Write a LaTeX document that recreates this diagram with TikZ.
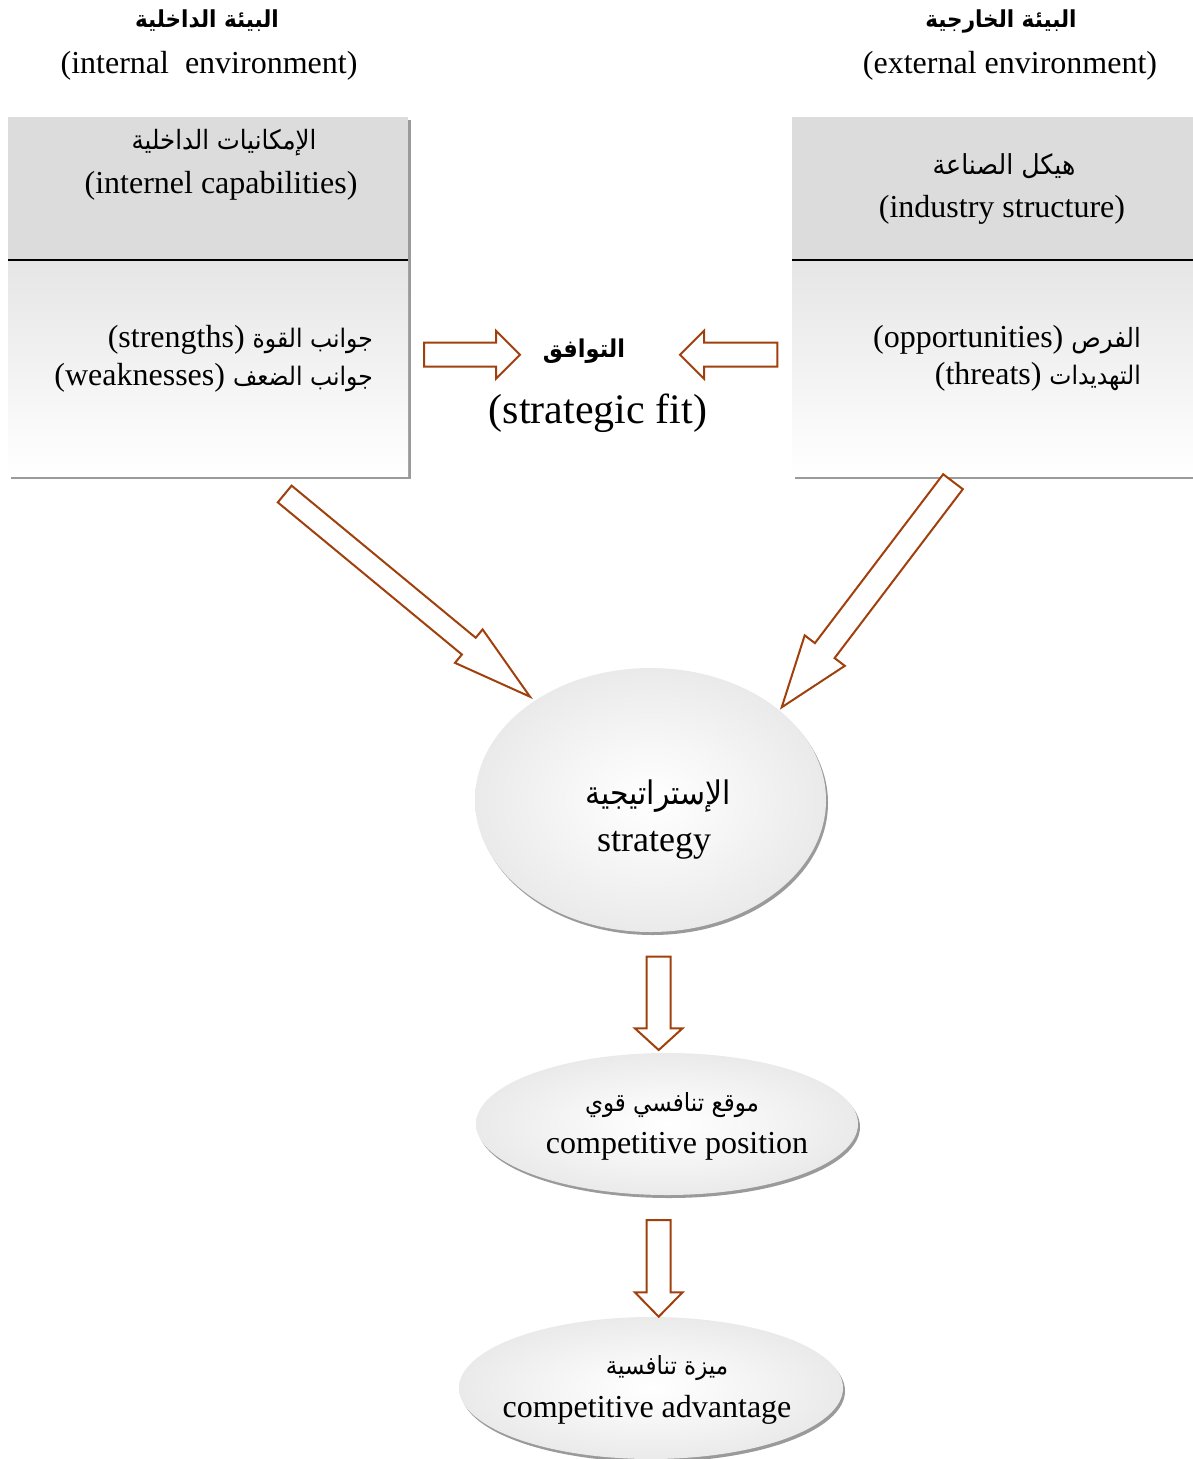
\documentclass[tikz,border=0pt]{standalone}
\usepackage{fontspec}
\setmainfont{Liberation Serif}
\newfontfamily\ar[Script=Arabic, FakeStretch=0.92]{DejaVu Sans}
\TeXXeTstate=1
\usetikzlibrary{calc,shapes.geometric,shadows}

\definecolor{arrowbrown}{HTML}{A0400C}
\definecolor{boxgray}{HTML}{DCDCDC}
\definecolor{shadowgray}{HTML}{9A9A9A}
\pgfdeclareradialshading{ovalshade}{\pgfpoint{0bp}{0bp}}{%
  color(0bp)=(white); color(10bp)=(white!97!black); color(50bp)=(black!17)}

% hollow block arrow: tail, tip, half body width, half head width, head length
\newcommand\hollowarrow[5]{%
  \draw[blockarrow]
    ($(#1)!#3!90:(#2)$) --
    ($(#2)!#5!(#1)!#3!-90:(#1)$) --
    ($(#2)!#5!(#1)!#4!-90:(#1)$) --
    (#2) --
    ($(#2)!#5!(#1)!#4!90:(#1)$) --
    ($(#2)!#5!(#1)!#3!90:(#1)$) --
    ($(#1)!#3!-90:(#2)$) -- cycle;}

% Arabic font at a given size
\newcommand\arsize[1]{\ar\fontsize{#1}{#1}\selectfont}

\tikzset{
  x=1pt, y=-1pt,
  txt/.style={inner sep=0pt, font=\fontsize{32}{41}\selectfont, align=center},
  artxt/.style={inner sep=0pt},
  topbox/.style={rectangle, fill=boxgray, inner sep=0pt, outer sep=0pt, anchor=north west,
    drop shadow={shadow xshift=3pt, shadow yshift=-3pt, fill=shadowgray, opacity=1}},
  botbox/.style={rectangle, inner sep=0pt, outer sep=0pt, anchor=north west,
    top color=black!10, bottom color=white,
    drop shadow={shadow xshift=3pt, shadow yshift=-3pt, fill=shadowgray, opacity=1}},
  divider/.style={line width=2pt, black},
  blockarrow/.style={draw=arrowbrown, line width=2pt, fill=white, line join=miter},
  oval/.style={ellipse, inner sep=0pt, shading=ovalshade,
    drop shadow={shadow xshift=2pt, shadow yshift=-3pt, fill=shadowgray, opacity=1}},
}

\begin{document}
\begin{tikzpicture}
\useasboundingbox (0,0) rectangle (1193,1459);
\clip (0,0) rectangle (1193,1459);

% headings
\node[artxt, font=\bfseries] (intHeadAr) at (207,21) {\arsize{23.4}\bfseries\beginR البيئة الداخلية\endR};
\node[txt] (intHeadEn) at (209,66) {(internal\ \ environment)};
\node[artxt, font=\bfseries] (extHeadAr) at (1001,21) {\arsize{23.4}\bfseries\beginR البيئة الخارجية\endR};
\node[txt] (extHeadEn) at (1010,66) {(external environment)};

% internal environment box
\node[topbox, minimum width=400pt, minimum height=143pt] (intTop) at (8,117) {};
\node[botbox, minimum width=400pt, minimum height=216pt] (intBot) at (8,260) {};
\draw[divider] (intTop.south west) -- (intTop.south east);

% external environment box
\node[topbox, minimum width=420pt, minimum height=143pt] (extTop) at (792,117) {};
\node[botbox, minimum width=420pt, minimum height=216pt] (extBot) at (792,260) {};
\draw[divider] (extTop.south west) -- (extTop.south east);

% box texts
\node[artxt] (capAr) at (224,143) {\arsize{26.6}\beginR الإمكانيات الداخلية\endR};
\node[txt] (capEn) at (221,186) {(internel capabilities)};
\node[txt, anchor=east] (strLine) at (373,340) {(strengths) {\arsize{25.5}\beginR جوانب القوة\endR}};
\node[txt, anchor=east] (weakLine) at (373,378) {(weaknesses) {\arsize{25.5}\beginR جوانب الضعف\endR}};

\node[artxt] (indAr) at (1004,166) {\arsize{27.5}\beginR هيكل الصناعة\endR};
\node[txt] (indEn) at (1002,210) {(industry structure)};
\node[txt, anchor=east] (oppLine) at (1141,340) {(opportunities) {\arsize{26.5}\beginR الفرص\endR}};
\node[txt, anchor=east] (thrLine) at (1141,377) {(threats) {\arsize{25.5}\beginR التهديدات\endR}};

% strategic fit
\node[artxt] (fitAr) at (584,351) {\arsize{24.5}\bfseries\beginR التوافق\endR};
\node[txt, font=\fontsize{42}{48}\selectfont] (fitEn) at (598,413) {(strategic fit)};

% ovals
\node[oval, minimum width=351pt, minimum height=264pt] (strategy) at (650.5,800) {};
\node[artxt] (stratAr) at (658,796) {\arsize{32.5}\beginR الإستراتيجية\endR};
\node[txt, font=\fontsize{36}{42}\selectfont] (stratEn) at (654,845) {strategy};

\node[oval, minimum width=382pt, minimum height=142pt] (position) at (667,1124) {};
\node[artxt] (posAr) at (672,1105) {\arsize{25}\beginR موقع تنافسي قوي\endR};
\node[txt] (posEn) at (677,1146) {competitive position};

\node[oval, minimum width=384pt, minimum height=142pt] (advantage) at (651,1388) {};
\node[artxt] (advAr) at (667,1368) {\arsize{25}\beginR ميزة تنافسية\endR};
\node[txt] (advEn) at (647,1410) {competitive advantage};

% arrow end points
\coordinate (a1t) at (424,354.7);   \coordinate (a1p) at (520,354.7);
\coordinate (a2t) at (777.3,354.7); \coordinate (a2p) at (680,354.7);
\coordinate (a3t) at (284.7,494);   \coordinate (a3p) at (530,696.7);
\coordinate (a4t) at (953,481.7);   \coordinate (a4p) at (781.7,707.3);
\coordinate (a5t) at (658.7,956.7); \coordinate (a5p) at (658.7,1050);
\coordinate (a6t) at (658.7,1220);  \coordinate (a6p) at (658.7,1316.7);

\hollowarrow{a1t}{a1p}{12pt}{24pt}{24pt}
\hollowarrow{a2t}{a2p}{12pt}{24pt}{24pt}
\hollowarrow{a3t}{a3p}{10.85pt}{21.7pt}{79.4pt}
\hollowarrow{a4t}{a4p}{12.35pt}{25.2pt}{71.2pt}
\hollowarrow{a5t}{a5p}{12pt}{23.85pt}{21.7pt}
\hollowarrow{a6t}{a6p}{12pt}{23.85pt}{24.4pt}
\end{tikzpicture}
\end{document}
